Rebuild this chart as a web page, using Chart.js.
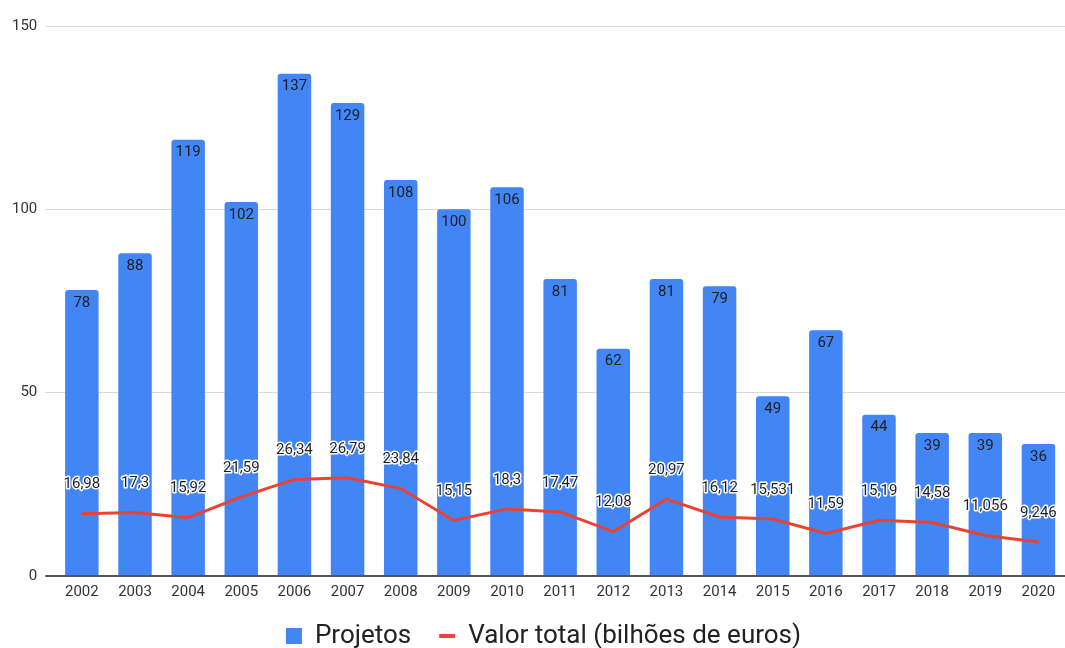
<!DOCTYPE html>
<html>
<head>
<meta charset="utf-8">
<script src="https://cdn.jsdelivr.net/npm/chart.js@4/dist/chart.umd.min.js"></script>
<style>
  html, body { margin: 0; padding: 0; background: #fff; }
  #wrap { width: 1065px; height: 648px; }
</style>
</head>
<body>
<div id="wrap"><canvas id="chart"></canvas></div>
<script>
const years = ["2002", "2003", "2004", "2005", "2006", "2007", "2008", "2009", "2010", "2011",
  "2012", "2013", "2014", "2015", "2016", "2017", "2018", "2019", "2020"];
const projetos = [78, 88, 119, 102, 137, 129, 108, 100, 106, 81, 62, 81, 79, 49, 67, 44, 39, 39, 36];
const valorTotal = [16.98, 17.3, 15.92, 21.59, 26.34, 26.79, 23.84, 15.15, 18.3, 17.47,
  12.08, 20.97, 16.12, 15.531, 11.59, 15.19, 14.58, 11.056, 9.246];
const yTicks = [0, 50, 100, 150];

const FONT = "Roboto, 'Liberation Sans', sans-serif";
const fmt = (v) => String(v).replace(".", ",");

const valueLabels = {
  id: "valueLabels",
  beforeLayout(chart) {
    if (chart.legend) chart.legend.afterFit = function () { this.height = 52; };
  },
  afterLayout(chart) {
    // legend padding is wide for the gap between items; pull the row back up
    if (chart.legend) {
      chart.legend.top -= 13;
      chart.legend.left += 9;
      chart.legend.right += 9;
    }
  },
  afterDatasetsDraw(chart) {
    const ctx = chart.ctx;
    ctx.save();
    ctx.font = "15px " + FONT;
    ctx.textAlign = "center";
    ctx.textBaseline = "middle";

    chart.getDatasetMeta(1).data.forEach((bar, i) => {
      ctx.fillStyle = "#1f1f1f";
      ctx.fillText(fmt(projetos[i]), bar.x, bar.y + 13);
    });

    chart.getDatasetMeta(0).data.forEach((pt, i) => {
      const y = pt.y - 29;
      ctx.lineJoin = "round";
      ctx.lineWidth = 3;
      ctx.strokeStyle = "#fff";
      ctx.strokeText(fmt(valorTotal[i]), pt.x, y);
      ctx.fillStyle = "#1f1f1f";
      ctx.fillText(fmt(valorTotal[i]), pt.x, y);
    });
    ctx.restore();
  }
};

new Chart(document.getElementById("chart"), {
  data: {
    labels: years,
    datasets: [
      {
        type: "line",
        label: "Valor total (bilhões de euros)",
        data: valorTotal,
        borderColor: "#EA4335",
        backgroundColor: "#EA4335",
        borderWidth: 3,
        pointRadius: 0,
        tension: 0,
        order: 0
      },
      {
        type: "bar",
        label: "Projetos",
        data: projetos,
        backgroundColor: "#4285F4",
        borderRadius: { topLeft: 3, topRight: 3 },
        borderSkipped: "bottom",
        categoryPercentage: 0.63,
        barPercentage: 1,
        order: 1
      }
    ]
  },
  options: {
    responsive: true,
    maintainAspectRatio: false,
    animation: false,
    layout: { padding: { top: 26, right: 0, left: 4, bottom: -24 } },
    scales: {
      x: {
        grid: { display: false, drawTicks: false },
        border: { display: false },
        ticks: { color: "#333", font: { family: FONT, size: 15 }, padding: 7, maxRotation: 0 }
      },
      y: {
        min: 0,
        max: 150,
        afterBuildTicks: (axis) => { axis.ticks = yTicks.map((v) => ({ value: v })); },
        border: { display: false },
        grid: {
          color: (c) => (c.tick && c.tick.value === 0 ? "#555" : "#d9d9d9"),
          lineWidth: (c) => (c.tick && c.tick.value === 0 ? 2 : 1),
          tickLength: 10,
          drawTicks: true
        },
        ticks: { color: "#333", font: { family: FONT, size: 15 }, padding: 8 }
      }
    },
    plugins: {
      tooltip: { enabled: false },
      legend: {
        position: "bottom",
        labels: {
          color: "#222",
          font: { family: FONT, size: 26 },
          usePointStyle: true,
          boxWidth: 16,
          boxHeight: 16,
          pointStyleWidth: 16,
          padding: 28,
          generateLabels(chart) {
            const items = Chart.defaults.plugins.legend.labels.generateLabels(chart);
            items.forEach((it) => {
              if (it.datasetIndex === 1) {
                it.pointStyle = "rect";
                it.lineWidth = 0;
                it.fillStyle = "#4285F4";
                it.strokeStyle = "#4285F4";
              } else {
                it.pointStyle = "line";
                it.lineWidth = 4;
                it.strokeStyle = "#EA4335";
              }
            });
            return items.sort((a, b) => b.datasetIndex - a.datasetIndex);
          }
        }
      }
    }
  },
  plugins: [valueLabels]
});
</script>
</body>
</html>
